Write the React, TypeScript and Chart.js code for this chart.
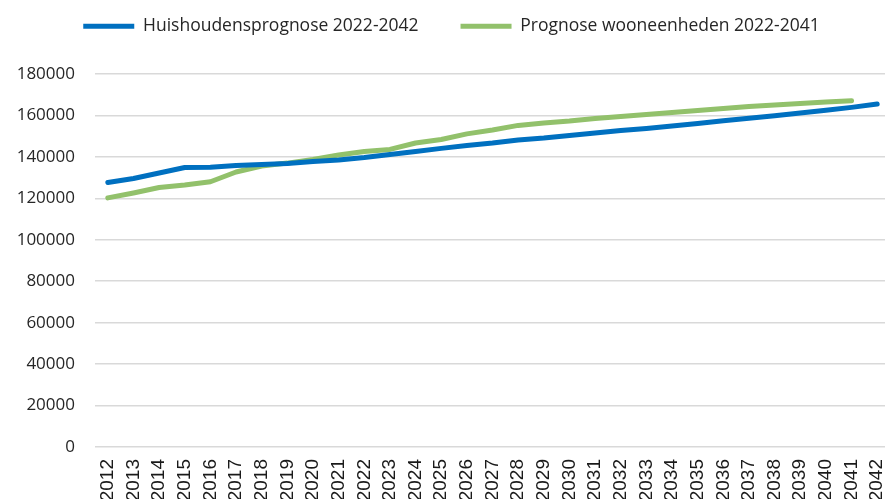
import React, { useEffect, useRef } from 'react';
import { Chart, registerables } from 'chart.js';

Chart.register(...registerables);

const years = [
  '2012', '2013', '2014', '2015', '2016', '2017', '2018', '2019', '2020', '2021',
  '2022', '2023', '2024', '2025', '2026', '2027', '2028', '2029', '2030', '2031',
  '2032', '2033', '2034', '2035', '2036', '2037', '2038', '2039', '2040', '2041', '2042',
];

const huishoudensprognose = [
  127600, 129600, 132200, 134900, 135000, 135900, 136300, 136800, 137800, 138500,
  139700, 141200, 142600, 144100, 145500, 146700, 148200, 149100, 150300, 151500,
  152700, 153700, 154900, 156100, 157400, 158600, 159900, 161200, 162500, 163900, 165500,
];

const wooneenheden = [
  120200, 122600, 125200, 126400, 128000, 132700, 135600, 137000, 138700, 140900,
  142600, 143600, 146700, 148400, 151100, 153000, 155200, 156400, 157300, 158500,
  159500, 160500, 161400, 162400, 163400, 164300, 165000, 165800, 166500, 167100, null,
];

const seriesNames = ['Huishoudensprognose 2022-2042', 'Prognose wooneenheden 2022-2041'];
const seriesColors = ['#0070C0', '#92C16B'];

const yMin = 0;
const yMax = 180000;
const yStep = 20000;

export default function App() {
  const ref = useRef<HTMLCanvasElement>(null);

  useEffect(() => {
    if (!ref.current) return;
    const legendFit = {
      id: 'legendFit',
      beforeInit(chart: any) {
        const lg = chart.legend;
        if (!lg) return;
        const orig = lg.fit;
        lg.fit = function () {
          orig.call(this);
          this.height = 98.5;
        };
      },
      afterLayout(chart: any) {
        const lg = chart.legend;
        if (!lg) return;
        lg.left -= 4.5;
        lg.right -= 4.5;
      },
    };
    const chart = new Chart(ref.current, {
      type: 'line',
      data: {
        labels: years,
        datasets: [
          {
            label: seriesNames[0],
            data: huishoudensprognose,
            borderColor: seriesColors[0],
            backgroundColor: seriesColors[0],
            borderWidth: 5,
            pointRadius: 0,
            tension: 0,
            borderCapStyle: 'round',
            borderJoinStyle: 'round',
            spanGaps: false,
          },
          {
            label: seriesNames[1],
            data: wooneenheden,
            borderColor: seriesColors[1],
            backgroundColor: seriesColors[1],
            borderWidth: 5,
            pointRadius: 0,
            tension: 0,
            borderCapStyle: 'round',
            borderJoinStyle: 'round',
            spanGaps: false,
          },
        ],
      },
      options: {
        responsive: false,
        animation: false,
        layout: { padding: { top: -24.5, left: 0, right: 0, bottom: 0 } },
        plugins: {
          legend: {
            display: true,
            position: 'top',
            labels: {
              usePointStyle: true,
              pointStyle: 'line',
              pointStyleWidth: 51,
              padding: 42,
              color: '#262626',
              font: { family: 'Open Sans', size: 17.5 },
            },
          },
          tooltip: { enabled: false },
        },
        scales: {
          x: {
            offset: true,
            grid: { display: false, drawTicks: false },
            border: { display: false },
            ticks: {
              autoSkip: false,
              minRotation: 90,
              maxRotation: 90,
              padding: 12,
              color: '#1a1a1a',
              font: { family: 'Liberation Sans', size: 19 },
            },
            afterFit(scale: any) {
              scale.height = 52;
            },
          },
          y: {
            min: yMin,
            max: yMax,
            border: { display: false },
            grid: { color: '#d9d9d9', lineWidth: 1.5, drawTicks: false },
            ticks: {
              stepSize: yStep,
              padding: 20,
              color: '#262626',
              font: { family: 'Open Sans', size: 17 },
              callback: (v: any) => String(v),
            },
            afterFit(scale: any) {
              scale.width = 95;
            },
          },
        },
      },
      plugins: [legendFit],
    } as any);
    return () => chart.destroy();
  }, []);

  return (
    <div style={{ position: 'absolute', left: 0, top: 0, width: 885, height: 499, overflow: 'hidden', background: '#fff' }}>
      <canvas ref={ref} width={912} height={499} style={{ display: 'block' }} />
    </div>
  );
}
